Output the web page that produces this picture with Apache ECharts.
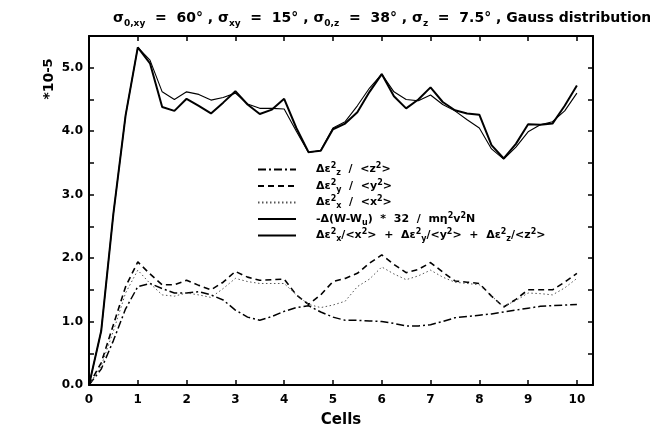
<!DOCTYPE html>
<html>
<head>
<meta charset="utf-8">
<script src="https://cdn.jsdelivr.net/npm/echarts@6/dist/echarts.min.js"></script>
<style>
  html, body { margin: 0; padding: 0; background: #fff; }
  #chart { width: 650px; height: 437px; }
</style>
</head>
<body>
<div id="chart"></div>
<script>
// cell positions (x) and curves (in units of 1e-5)
const cells = [0, 0.25, 0.5, 0.75, 1, 1.25, 1.5, 1.75, 2, 2.25, 2.5, 2.75, 3, 3.25, 3.5, 3.75,
  4, 4.25, 4.5, 4.75, 5, 5.25, 5.5, 5.75, 6, 6.25, 6.5, 6.75, 7, 7.25, 7.5, 7.75,
  8, 8.25, 8.5, 8.75, 9, 9.25, 9.5, 9.75, 10];

const ratioZ = [0, 0.25, 0.7, 1.2, 1.55, 1.6, 1.52, 1.45, 1.45, 1.47, 1.42, 1.34, 1.18, 1.07, 1.02, 1.08,
  1.16, 1.22, 1.25, 1.15, 1.07, 1.02, 1.02, 1.01, 1.0, 0.97, 0.93, 0.93, 0.95, 1.0, 1.06, 1.08,
  1.1, 1.12, 1.15, 1.18, 1.21, 1.24, 1.25, 1.26, 1.27];

const ratioY = [0, 0.35, 0.95, 1.55, 1.94, 1.75, 1.58, 1.58, 1.65, 1.57, 1.5, 1.62, 1.79, 1.7, 1.65, 1.66,
  1.67, 1.42, 1.27, 1.42, 1.63, 1.68, 1.76, 1.92, 2.05, 1.9, 1.77, 1.82, 1.93, 1.78, 1.64, 1.62,
  1.6, 1.4, 1.23, 1.35, 1.5, 1.5, 1.5, 1.62, 1.76];

const ratioX = [0, 0.3, 0.85, 1.45, 1.81, 1.6, 1.42, 1.4, 1.45, 1.42, 1.38, 1.52, 1.68, 1.63, 1.6, 1.6,
  1.6, 1.42, 1.27, 1.22, 1.26, 1.32, 1.55, 1.67, 1.86, 1.75, 1.66, 1.72, 1.81, 1.7, 1.62, 1.6,
  1.58, 1.4, 1.24, 1.33, 1.45, 1.44, 1.42, 1.53, 1.68];

const energy = [0, 0.85, 2.7, 4.25, 5.32, 5.12, 4.62, 4.5, 4.62, 4.58, 4.49, 4.53, 4.6, 4.43, 4.36, 4.36,
  4.35, 4.0, 3.66, 3.7, 4.05, 4.15, 4.4, 4.68, 4.9, 4.62, 4.5, 4.48, 4.57, 4.42, 4.32, 4.18,
  4.05, 3.72, 3.56, 3.75, 3.99, 4.1, 4.15, 4.32, 4.6];

const sumRatio = [0, 0.85, 2.7, 4.25, 5.32, 5.07, 4.38, 4.32, 4.51, 4.4, 4.28, 4.45, 4.63, 4.42, 4.27, 4.34,
  4.51, 4.05, 3.67, 3.69, 4.03, 4.12, 4.3, 4.62, 4.9, 4.55, 4.36, 4.5, 4.69, 4.46, 4.33, 4.28,
  4.26, 3.78, 3.57, 3.8, 4.11, 4.1, 4.12, 4.4, 4.72];

const legendText = {
  z: 'Δε{sup|2}{sub|z}  /  <z{sup|2}>',
  y: 'Δε{sup|2}{sub|y}  /  <y{sup|2}>',
  x: 'Δε{sup|2}{sub|x}  /  <x{sup|2}>',
  w: '-Δ(W-W{sub|u})  *  32  /  mη{sup|2}v{sup|2}N',
  s: 'Δε{sup|2}{sub|x}/<x{sup|2}>  +  Δε{sup|2}{sub|y}/<y{sup|2}>  +  Δε{sup|2}{sub|z}/<z{sup|2}>'
};

const FONT = '"DejaVu Sans", "Liberation Sans", sans-serif';

function pairs(ys) {
  return cells.map((c, i) => [c, ys[i]]);
}

const chart = echarts.init(document.getElementById('chart'));

const baseAxisX = {
  type: 'value', min: 0, max: 10.33, interval: 1,
  axisLine: { show: true, onZero: false, lineStyle: { color: '#000', width: 2 } },
  axisTick: { show: true, inside: true, length: 5, lineStyle: { color: '#000', width: 1.5 } },
  splitLine: { show: false }
};
const baseAxisY = {
  type: 'value', min: 0, max: 5.5, interval: 0.5,
  axisLine: { show: true, onZero: false, lineStyle: { color: '#000', width: 2 } },
  axisTick: { show: true, inside: true, length: 5, lineStyle: { color: '#000', width: 1.5 } },
  splitLine: { show: false }
};

chart.setOption({
  animation: false,
  backgroundColor: '#fff',
  title: {
    text: 'σ{sb|0,xy}  =  60° , σ{sb|xy}  =  15° , σ{sb|0,z}  =  38° , σ{sb|z}  =  7.5° , Gauss distribution',
    left: 108, top: 3,
    textStyle: {
      fontFamily: FONT, fontSize: 14, fontWeight: 'bold', color: '#000', lineHeight: 20,
      rich: {
        sb: { fontFamily: FONT, fontSize: 9, fontWeight: 'bold', color: '#000', verticalAlign: 'bottom', lineHeight: 9 }
      }
    }
  },
  graphic: [{
    type: 'text', x: 49, y: 79, rotation: Math.PI / 2,
    style: {
      text: '*10{s|-5}', align: 'center', verticalAlign: 'middle',
      fontFamily: FONT, fontSize: 14, fontWeight: 'bold', fill: '#000',
      rich: { s: { fontFamily: FONT, fontSize: 13, fontWeight: 'bold', fill: '#000', verticalAlign: 'top', lineHeight: 12 } }
    }
  }],
  grid: { left: 89, right: 57, top: 36, bottom: 52 },
  legend: {
    orient: 'vertical', left: 257, top: 162, padding: 0,
    itemWidth: 38, itemHeight: 10, itemGap: 1.5,
    data: ['z', 'y', 'x', 'w', 's'],
    formatter: name => '{sp|}' + legendText[name],
    itemStyle: { color: 'rgba(0,0,0,0)', borderWidth: 0 },
    textStyle: {
      fontFamily: FONT, fontSize: 11, fontWeight: 'bold', color: '#000', lineHeight: 15,
      rich: {
        sp: { width: 15 },
        sup: { fontFamily: FONT, fontSize: 8, fontWeight: 'bold', color: '#000', verticalAlign: 'top', lineHeight: 8 },
        sub: { fontFamily: FONT, fontSize: 8, fontWeight: 'bold', color: '#000', verticalAlign: 'bottom', lineHeight: 8 }
      }
    }
  },
  xAxis: [
    Object.assign({}, baseAxisX, {
      position: 'bottom',
      name: 'Cells', nameLocation: 'middle', nameGap: 28,
      nameTextStyle: { fontFamily: FONT, fontSize: 15, fontWeight: 'bold', color: '#000' },
      axisLabel: {
        show: true, margin: 9, showMaxLabel: false,
        fontFamily: FONT, fontSize: 12, fontWeight: 'bold', color: '#000',
        formatter: v => (Math.abs(v - Math.round(v)) < 1e-6 ? String(Math.round(v)) : '')
      }
    }),
    Object.assign({}, baseAxisX, { position: 'top', axisLabel: { show: false } })
  ],
  yAxis: [
    Object.assign({}, baseAxisY, {
      position: 'left',
      axisLabel: {
        show: true, margin: 6, showMaxLabel: false,
        fontFamily: FONT, fontSize: 12, fontWeight: 'bold', color: '#000',
        formatter: v => (Math.abs(v - Math.round(v)) < 1e-6 ? v.toFixed(1) : '')
      }
    }),
    Object.assign({}, baseAxisY, { position: 'right', axisLabel: { show: false } })
  ],
  series: [
    {
      name: 'z', type: 'line', data: pairs(ratioZ), showSymbol: false, symbol: 'none',
      lineStyle: { color: '#000', width: 1.5, type: [8, 3, 2, 3] }, itemStyle: { color: '#000' }
    },
    {
      name: 'y', type: 'line', data: pairs(ratioY), showSymbol: false, symbol: 'none',
      lineStyle: { color: '#000', width: 1.6, type: [6, 4] }, itemStyle: { color: '#000' }
    },
    {
      name: 'x', type: 'line', data: pairs(ratioX), showSymbol: false, symbol: 'none',
      lineStyle: { color: '#555', width: 1, type: [1.5, 2.5] }, itemStyle: { color: '#555' }
    },
    {
      name: 'w', type: 'line', data: pairs(energy), showSymbol: false, symbol: 'none',
      lineStyle: { color: '#000', width: 1.1 }, itemStyle: { color: '#000' }
    },
    {
      name: 's', type: 'line', data: pairs(sumRatio), showSymbol: false, symbol: 'none',
      lineStyle: { color: '#000', width: 2 }, itemStyle: { color: '#000' }
    }
  ]
});
</script>
</body>
</html>
